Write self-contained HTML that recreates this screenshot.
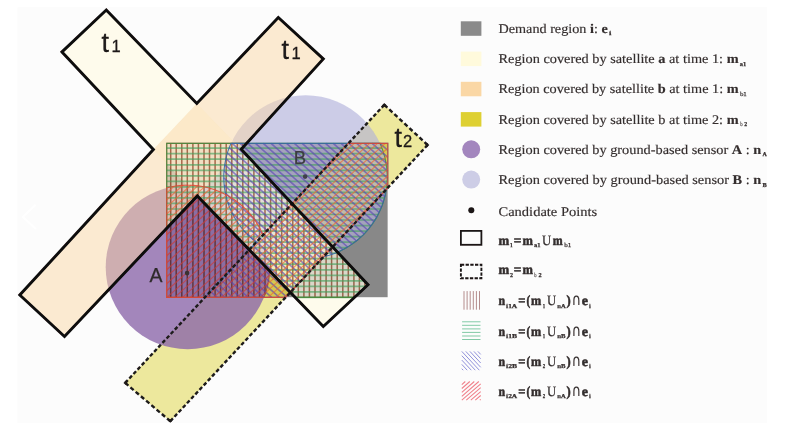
<!DOCTYPE html>
<html lang="en"><head><meta charset="utf-8"><title>Coverage regions diagram</title>
<style>html,body{margin:0;padding:0;background:#fff;overflow:hidden}svg{display:block}</style></head>
<body>
<svg width="785" height="424" viewBox="0 0 785 424">
<rect width="785" height="424" fill="#ffffff"/>
<rect x="17.5" y="7.2" width="749.5" height="415.8" fill="#fcfcfc"/>
<path d="M35.7 204.7 L22.9 216.9 L35.9 228.9" fill="none" stroke="#ffffff" stroke-width="2"/>
<defs><filter id="soft" x="-2%" y="-2%" width="104%" height="104%"><feGaussianBlur stdDeviation="0.6"/></filter><filter id="soft2" x="-2%" y="-2%" width="104%" height="104%"><feGaussianBlur stdDeviation="0.7"/></filter>
<clipPath id="rc"><rect x="166.7" y="143.4" width="221.1" height="154"/></clipPath></defs>
<g id="diagram" filter="url(#soft)">
<path d="M384.3 104.8 L427.6 145 L170.3 421.2 L125.2 382.9Z" fill="rgb(222, 212, 60)" fill-opacity="0.5"/>
<circle cx="187.7" cy="267.2" r="82.0" fill="rgb(140, 104, 170)" fill-opacity="0.8"/>
<circle cx="305.5" cy="177.0" r="81.7" fill="rgb(176, 176, 218)" fill-opacity="0.63"/>
<path d="M106.3 10 L196.8 103.5 L241.2 149.3 L368 284.7 L323.3 326.5 L197.3 195.9 L153.4 149.6 L62 51.9Z" fill="rgb(255, 250, 220)" fill-opacity="0.5"/>
<path d="M278.3 17.5 L323.3 58.9 L241.2 149.3 L197.3 195.9 L64.5 336.5 L19.8 295 L153.4 149.6 L196.8 103.5Z" fill="rgb(249, 215, 165)" fill-opacity="0.5"/>
<g clip-path="url(#rc)">
<rect x="166.7" y="143.4" width="221.1" height="154" fill="#888888"/>
<path d="M384.3 104.8 L427.6 145 L170.3 421.2 L125.2 382.9Z" fill="rgb(226, 212, 72)" fill-opacity="0.85"/>
<circle cx="187.7" cy="267.2" r="82.0" fill="rgb(140, 104, 170)" fill-opacity="0.8"/>
<circle cx="305.5" cy="177.0" r="81.7" fill="rgb(180, 178, 220)" fill-opacity="0.63"/>
<path d="M106.3 10 L196.8 103.5 L241.2 149.3 L368 284.7 L323.3 326.5 L197.3 195.9 L153.4 149.6 L62 51.9Z" fill="rgb(253, 249, 228)" fill-opacity="0.7"/>
<path d="M278.3 17.5 L323.3 58.9 L241.2 149.3 L197.3 195.9 L64.5 336.5 L19.8 295 L153.4 149.6 L196.8 103.5Z" fill="rgb(251, 226, 191)" fill-opacity="0.7"/>
</g>
<g>
<path d="M364.9 281.4 L364.9 287.6M359.4 275.5 L359.4 292.7M353.9 269.6 L353.9 297.4M348.3 263.7 L348.3 297.4M342.8 257.7 L342.8 297.4M337.2 251.8 L337.2 297.4M331.6 245.9 L331.6 297.4M326.1 240 L326.1 297.4M320.5 234 L320.5 297.4M315 228.1 L315 297.4M309.4 222.2 L309.4 297.4M303.9 216.3 L303.9 297.4M298.3 210.3 L298.3 297.4M292.8 204.4 L292.8 294.9M287.2 198.5 L287.2 289.1M281.7 192.5 L281.7 283.4M276.1 186.6 L276.1 277.6M270.6 180.7 L270.6 271.9M265 174.8 L265 294.4M259.5 168.8 L259.5 297.4M253.9 162.9 L253.9 297.4M248.4 157 L248.4 297.4M242.8 143.4 L242.8 147.5M242.8 151.1 L242.8 297.4M237.3 143.4 L237.3 297.4M231.8 143.4 L231.8 297.4M226.2 143.4 L226.2 297.4M220.6 143.4 L220.6 297.4M215.1 143.4 L215.1 297.4M209.5 143.4 L209.5 297.4M204 143.4 L204 297.4M198.4 143.4 L198.4 297.4M192.9 143.4 L192.9 297.4M187.3 143.4 L187.3 297.4M181.8 143.4 L181.8 297.4M176.2 143.4 L176.2 297.4M170.7 143.4 L170.7 297.4" fill="none" stroke="rgb(178,120,98)" stroke-width="1.5" stroke-opacity="1" filter="url(#soft2)" style="mix-blend-mode:multiply"/>
<path d="M264.4 296.1 L265.3 293.6 L266.2 291 L266.9 288.4 L267.6 285.8 L268.1 283.2 L268.6 280.6 L269 277.9 L269.3 275.2 L269.5 272.6 L269.6 270.8 L295.2 297.4 L354.4 297.4 L368 284.7 L241.2 149.3 L246.6 143.4 L166.7 143.4 L166.7 297.4 L263.9 297.4Z" fill="none" stroke="rgb(150,80,60)" stroke-width="1.1" stroke-opacity="0.85" filter="url(#soft2)"/>
<path d="M166.7 148.2 L382 148.2M166.7 153.7 L383.8 153.7M166.7 159.2 L385.2 159.2M166.7 164.8 L386.3 164.8M166.7 170.3 L386.9 170.3M166.7 175.8 L387.2 175.8M166.7 181.3 L387.1 181.3M166.7 186.9 L386.6 186.9M166.7 192.4 L385.7 192.4M166.7 197.9 L195.4 197.9M199.3 197.9 L384.5 197.9M166.7 203.4 L190.2 203.4M204.6 203.4 L382.8 203.4M166.7 209 L185 209M209.9 209 L380.7 209M166.7 214.5 L179.7 214.5M215.2 214.5 L378.1 214.5M166.7 220 L174.5 220M220.6 220 L375 220M166.7 225.6 L169.3 225.6M225.9 225.6 L371.2 225.6M231.2 231.1 L366.7 231.1M236.6 236.6 L361.4 236.6M241.9 242.1 L354.8 242.1M247.2 247.6 L346.5 247.6M252.6 253.2 L338.5 253.2M257.9 258.7 L343.7 258.7M263.2 264.2 L348.8 264.2M268.5 269.8 L354 269.8M273.9 275.3 L359.2 275.3M279.2 280.8 L364.3 280.8M284.5 286.3 L366.3 286.3M289.9 291.9 L360.4 291.9M295.2 297.4 L354.4 297.4" fill="none" stroke="rgb(66,160,92)" stroke-width="1.7" stroke-opacity="0.62" filter="url(#soft2)"/>
<path d="M197.3 195.9 L295.2 297.4 L354.4 297.4 L368 284.7 L337.5 252.2 L339.2 251.4 L341.6 250.3 L344 249.1 L346.3 247.8 L348.6 246.4 L350.9 244.9 L353.1 243.4 L355.2 241.8 L357.3 240.2 L359.4 238.4 L361.3 236.6 L363.3 234.8 L365.1 232.8 L366.9 230.9 L368.7 228.8 L370.3 226.7 L371.9 224.6 L373.4 222.4 L374.9 220.1 L376.3 217.9 L377.6 215.5 L378.8 213.1 L379.9 210.7 L381 208.3 L382 205.8 L382.9 203.3 L383.7 200.7 L384.4 198.1 L385.1 195.6 L385.6 192.9 L386.1 190.3 L386.5 187.7 L386.8 185 L387 182.3 L387.2 179.7 L387.2 177 L387.2 174.3 L387 171.7 L386.8 169 L386.5 166.3 L386.1 163.7 L385.6 161.1 L385.1 158.4 L384.4 155.9 L383.7 153.3 L382.9 150.7 L382 148.2 L381 145.7 L380 143.4 L166.7 143.4 L166.7 228.3Z" fill="none" stroke="rgb(70,140,60)" stroke-width="1.1" stroke-opacity="0.85" filter="url(#soft2)"/>
<path d="M387.8 143.4 L387.8 143.4M380 143.4 L387.8 150.4M372.2 143.4 L387.8 157.4M364.4 143.4 L387.8 164.4M356.7 143.4 L387.8 171.3M348.9 143.4 L387.8 178.3M341.1 143.4 L387.8 185.3M333.3 143.4 L386 190.7M325.5 143.4 L384.8 196.6M317.8 143.4 L383.2 202.1M310 143.4 L381.3 207.4M302.2 143.4 L379.1 212.4M294.4 143.4 L376.6 217.2M286.6 143.4 L373.9 221.7M278.9 143.4 L370.9 226M271.1 143.4 L367.6 230M263.3 143.4 L364.1 233.9M255.5 143.4 L360.4 237.5M247.7 143.4 L356.4 240.9M240 143.4 L352.1 244.1M232.2 143.4 L347.6 247M229.2 147.7 L342.8 249.7M227.4 153.1 L337.7 252.1M225.9 158.7 L332.3 254.2M224.7 164.7 L326.5 256M224 171 L321.7 258.6M223.8 177.8 L318.2 262.5M224.2 185.1 L314.6 266.3M225.4 193.2 L311.1 270.1M227.8 202.3 L307.6 273.9M232.3 213.3 L304 277.7M244 230.8 L300.5 281.5M252.9 245.8 L296.9 285.3M249.4 249.6 L293.4 289.1M245.9 253.4 L289.8 292.9M242.3 257.2 L286.3 296.7M238.8 261 L279.3 297.4M235.2 264.8 L271.6 297.4M231.7 268.6 L263.8 297.4M228.1 272.4 L256 297.4M224.6 276.2 L248.2 297.4M221.1 280 L240.4 297.4M217.5 283.8 L232.7 297.4M214 287.6 L224.9 297.4M210.4 291.4 L217.1 297.4M206.9 295.2 L209.3 297.4" fill="none" stroke="rgb(88,66,180)" stroke-width="1.6" stroke-opacity="0.62" filter="url(#soft2)"/>
<path d="M230 145.7 L229 148.2 L228.1 150.7 L227.3 153.3 L226.6 155.9 L225.9 158.4 L225.4 161.1 L224.9 163.7 L224.5 166.3 L224.2 169 L224 171.7 L223.8 174.3 L223.8 177 L223.8 179.7 L224 182.3 L224.2 185 L224.5 187.7 L224.9 190.3 L225.4 192.9 L225.9 195.6 L226.6 198.1 L227.3 200.7 L228.1 203.3 L229 205.8 L230 208.3 L231.1 210.7 L232.2 213.1 L233.4 215.5 L234.7 217.8 L236.1 220.1 L237.6 222.4 L239.1 224.6 L240.7 226.7 L242.3 228.8 L244.1 230.9 L245.9 232.8 L247.7 234.8 L249.7 236.6 L251.6 238.4 L253.7 240.2 L255.8 241.8 L256.3 242.2 L204.9 297.4 L285.6 297.4 L323.6 256.7 L324.1 256.6 L326.6 255.9 L329.2 255.2 L331.8 254.4 L334.3 253.5 L336.8 252.5 L339.2 251.4 L341.6 250.3 L344 249.1 L346.3 247.8 L348.6 246.4 L350.9 244.9 L353.1 243.4 L355.2 241.8 L357.3 240.2 L359.4 238.4 L361.3 236.6 L363.3 234.8 L365.1 232.8 L366.9 230.9 L368.7 228.8 L370.3 226.7 L371.9 224.6 L373.4 222.4 L374.9 220.1 L376.3 217.9 L377.6 215.5 L378.8 213.1 L379.9 210.7 L381 208.3 L382 205.8 L382.9 203.3 L383.7 200.7 L384.4 198.1 L385.1 195.6 L385.6 192.9 L386.1 190.3 L386.2 189.4 L387.8 187.7 L387.8 143.4 L231 143.4Z" fill="none" stroke="rgb(50,105,165)" stroke-width="1.1" stroke-opacity="0.85" filter="url(#soft2)"/>
<path d="M166.7 192.9 L174 186.4M166.7 199.9 L182.9 185.3M166.7 206.9 L190.8 185.3M166.7 213.9 L197.9 185.8M166.7 220.9 L204.5 186.9M166.7 227.8 L169.6 225.2M199.6 198.3 L210.6 188.5M203.2 202 L216.3 190.3M206.8 205.8 L221.6 192.5M210.4 209.5 L226.6 195M214.1 213.3 L231.3 197.8M217.7 217 L235.8 200.8M221.3 220.7 L239.9 204M224.9 224.5 L243.9 207.5M228.5 228.2 L247.5 211.1M232.1 232 L251 215M235.7 235.7 L254.2 219.2M239.3 239.5 L257.1 223.5M242.9 243.2 L259.8 228.1M318.7 175.3 L354.2 143.4M246.5 246.9 L262.2 232.9M279 217.8 L361.9 143.4M250.2 250.7 L369.7 143.4M253.8 254.4 L377.5 143.4M257.4 258.2 L385.3 143.4M261 261.9 L387.8 148.1M264.6 265.6 L387.8 155.1M268.2 269.4 L387.8 162.1M269.3 275.4 L387.8 169.1M268.1 283.5 L387.8 176M265.6 292.6 L387.8 183M268.1 297.4 L374.9 201.6M275.9 297.4 L335.2 244.1M283.7 297.4 L295.6 286.7" fill="none" stroke="rgb(238,100,48)" stroke-width="1.25" stroke-opacity="0.66" filter="url(#soft2)"/>
<path d="M169.6 225.2 L199.6 198.3M166.7 234.8 L203.2 202M166.7 241.8 L206.8 205.8M166.7 248.8 L210.4 209.5M166.7 255.8 L214.1 213.3M166.7 262.7 L217.7 217M166.7 269.7 L221.3 220.7M166.7 276.7 L224.9 224.5M166.7 283.7 L228.5 228.2M166.7 290.7 L232.1 232M167 297.4 L235.7 235.7M174.7 297.4 L239.3 239.5M182.5 297.4 L242.9 243.2M190.3 297.4 L246.5 246.9M198.1 297.4 L250.2 250.7M205.9 297.4 L253.8 254.4M213.6 297.4 L257.4 258.2M221.4 297.4 L261 261.9M229.2 297.4 L264.6 265.6M237 297.4 L268.2 269.4M244.8 297.4 L269.3 275.4M252.5 297.4 L268.1 283.5M260.3 297.4 L265.6 292.6" fill="none" stroke="rgb(206,58,56)" stroke-width="1.2" stroke-opacity="0.7" filter="url(#soft2)"/>
<path d="M387.8 187.7 L387.8 143.4 L348.3 143.4 L263.1 234.9 L262.4 233.4 L261.2 230.9 L260 228.5 L258.7 226.2 L257.3 223.9 L255.9 221.6 L254.4 219.4 L252.8 217.3 L251.1 215.2 L249.4 213.1 L247.5 211.1 L245.7 209.2 L243.8 207.4 L241.8 205.5 L239.7 203.8 L237.6 202.1 L235.5 200.5 L233.3 199 L231 197.6 L228.7 196.2 L226.4 194.9 L224 193.7 L221.5 192.5 L219.1 191.4 L216.6 190.5 L214.1 189.6 L211.5 188.7 L208.9 188 L206.3 187.3 L203.7 186.8 L201.1 186.3 L198.4 185.9 L195.7 185.6 L193.1 185.4 L190.4 185.2 L187.7 185.2 L185 185.2 L182.3 185.4 L179.7 185.6 L177 185.9 L174.3 186.3 L171.7 186.8 L169.1 187.3 L166.7 187.9 L166.7 297.4 L285.6 297.4Z" fill="none" stroke="rgb(225,70,50)" stroke-width="1.1" stroke-opacity="0.85" filter="url(#soft2)"/>
</g>
<path d="M384.3 104.8L427.6 145" fill="none" stroke="#1e1a1a" stroke-width="2.4" stroke-dasharray="4.2 2.661" stroke-linecap="butt"/>
<path d="M427.6 145L170.3 421.2" fill="none" stroke="#1e1a1a" stroke-width="2.4" stroke-dasharray="3.8 2.326" stroke-linecap="butt"/>
<path d="M170.3 421.2L125.2 382.9" fill="none" stroke="#1e1a1a" stroke-width="2.4" stroke-dasharray="4.2 2.671" stroke-linecap="butt"/>
<path d="M125.2 382.9L384.3 104.8" fill="none" stroke="#1e1a1a" stroke-width="2.4" stroke-dasharray="3.8 2.269" stroke-linecap="butt"/>
<path d="M382.9 106.3L384.3 104.8L385.8 106.2" fill="none" stroke="#1e1a1a" stroke-width="2.4" stroke-linejoin="miter"/>
<path d="M426.1 143.6L427.6 145L426.2 146.5" fill="none" stroke="#1e1a1a" stroke-width="2.4" stroke-linejoin="miter"/>
<path d="M171.7 419.7L170.3 421.2L168.8 419.9" fill="none" stroke="#1e1a1a" stroke-width="2.4" stroke-linejoin="miter"/>
<path d="M126.7 384.2L125.2 382.9L126.6 381.4" fill="none" stroke="#1e1a1a" stroke-width="2.4" stroke-linejoin="miter"/>
<path d="M62 51.9 L153.4 149.6 L19.8 295 L64.5 336.5 L197.3 195.9 L323.3 326.5 L368 284.7 L241.2 149.3 L323.3 58.9 L278.3 17.5 L196.8 103.5 L106.3 10Z" fill="none" stroke="#0a0808" stroke-width="2.9" stroke-linejoin="miter"/>
<circle cx="187.1" cy="273.1" r="2.3" fill="#3a3030"/>
<circle cx="305.1" cy="176.6" r="2.3" fill="#404048"/>
<text x="101.6" y="51.9" font-family="Liberation Sans, Arial, sans-serif" font-size="27" fill="#1e1a1a" stroke="#1e1a1a" stroke-width="0.3">t<tspan font-size="16.5" dx="2.5">1</tspan></text>
<text x="281.6" y="59" font-family="Liberation Sans, Arial, sans-serif" font-size="27" fill="#1e1a1a" stroke="#1e1a1a" stroke-width="0.3">t<tspan font-size="16.5" dx="2.5">1</tspan></text>
<text x="394.6" y="147.2" font-family="Liberation Sans, Arial, sans-serif" font-size="27" fill="#1e1a1a" stroke="#1e1a1a" stroke-width="0.3">t<tspan font-size="16.5" dx="1">2</tspan></text>
<text x="149.4" y="281.5" font-family="Liberation Sans, Arial, sans-serif" font-size="19.5" fill="#2e2a2a" stroke="#2e2a2a" stroke-width="0.25">A</text>
<text x="293.8" y="164" font-family="Liberation Sans, Arial, sans-serif" font-size="18.5" fill="#3c3c40" stroke="#3c3c40" stroke-width="0.25">B</text>
</g>
<g id="legend" font-family="Liberation Serif, Times New Roman, serif" font-size="13.3" style="text-rendering:geometricPrecision" fill="#342e2e" stroke="#342e2e" stroke-width="0.16" filter="url(#soft)">
<rect x="460.8" y="21.3" width="20.6" height="14.5" fill="#8a8a8a" stroke="none"/>
<rect x="460.8" y="51.6" width="20.6" height="14.5" fill="#fffadc" stroke="none"/>
<rect x="460.8" y="81.8" width="20.6" height="14.5" fill="#fad7a5" stroke="none"/>
<rect x="460.8" y="112.1" width="20.6" height="14.5" fill="#ded032" stroke="none"/>
<circle cx="471.2" cy="149.3" r="9" fill="#a386be" stroke="none"/>
<circle cx="471.2" cy="179.6" r="9" fill="#cdcde6" stroke="none"/>
<circle cx="471.3" cy="210.3" r="3" fill="#1a1414" stroke="none"/>
<rect x="460.9" y="230.9" width="20.5" height="13.9" fill="none" stroke="#1a1616" stroke-width="1.8"/>
<rect x="460.9" y="264.7" width="20.5" height="13.6" fill="none" stroke="#1a1616" stroke-width="1.9" stroke-dasharray="3.3 1.4"/>
<path d="M479.5 291.1 L479.5 309.7M476.4 291.1 L476.4 309.7M473.3 291.1 L473.3 309.7M470.2 291.1 L470.2 309.7M467.1 291.1 L467.1 309.7M464 291.1 L464 309.7" fill="none" stroke="#a87878" stroke-width="0.85"/>
<path d="M462.1 321.8 L480.5 321.8M462.1 325.3 L480.5 325.3M462.1 328.9 L480.5 328.9M462.1 332.4 L480.5 332.4M462.1 336 L480.5 336M462.1 339.5 L480.5 339.5" fill="none" stroke="#6cc096" stroke-width="0.85"/>
<path d="M477.9 351.4 L480.7 354.4M473.9 351.4 L480.7 358.7M469.9 351.4 L480.7 363M465.8 351.4 L480.7 367.3M461.8 351.4 L479.3 370.2M461.8 355.7 L475.3 370.2M461.8 360.1 L471.3 370.2M461.8 364.4 L467.2 370.2M461.8 368.7 L463.2 370.2" fill="none" stroke="#9090da" stroke-width="1.0"/>
<path d="M461.8 384.6 L465.3 381.5M461.8 388.5 L469.8 381.5M461.8 392.4 L474.3 381.5M461.8 396.3 L478.8 381.5M461.8 400.2 L480.7 383.8M466.3 400.2 L480.7 387.7M470.8 400.2 L480.7 391.6M475.3 400.2 L480.7 395.5M479.8 400.2 L480.7 399.4" fill="none" stroke="#f0808a" stroke-width="1.05"/>
<text id="row0" x="498.5" y="32.9" textLength="109.2" lengthAdjust="spacingAndGlyphs">Demand region <tspan font-weight="bold">i</tspan>: <tspan font-weight="bold">e</tspan></text>
<text id="row1" x="498.5" y="63.2" textLength="240.1" lengthAdjust="spacingAndGlyphs">Region covered by satellite <tspan font-weight="bold">a</tspan> at time 1: <tspan font-weight="bold">m</tspan></text>
<text id="row2" x="498.5" y="93.4" textLength="240.1" lengthAdjust="spacingAndGlyphs">Region covered by satellite <tspan font-weight="bold">b</tspan> at time 1: <tspan font-weight="bold">m</tspan></text>
<text id="row3" x="498.5" y="123.7" textLength="240.1" lengthAdjust="spacingAndGlyphs">Region covered by satellite b at time 2: <tspan font-weight="bold">m</tspan></text>
<text id="row4" x="498.5" y="153.9" textLength="262.8" lengthAdjust="spacingAndGlyphs">Region covered by ground-based sensor <tspan font-weight="bold">A</tspan> : <tspan font-weight="bold">n</tspan></text>
<text id="row5" x="498.5" y="184.2" textLength="262.8" lengthAdjust="spacingAndGlyphs">Region covered by ground-based sensor <tspan font-weight="bold">B</tspan> : <tspan font-weight="bold">n</tspan></text>
<text id="row6" x="498.5" y="215.6" textLength="98.7" lengthAdjust="spacingAndGlyphs">Candidate Points</text>
<text x="608.9" y="35.2" font-size="6" font-weight="bold" textLength="2.4" lengthAdjust="spacingAndGlyphs" stroke-width="0.25">i</text>
<text x="739.7" y="65.5" font-size="6" font-weight="bold" textLength="6.4" lengthAdjust="spacingAndGlyphs" stroke-width="0.25">a1</text>
<text x="739.9" y="95.7" font-size="6" fill="#6a6464" textLength="6.9" lengthAdjust="spacingAndGlyphs" stroke-width="0.25">b1</text>
<text x="740.2" y="126" font-size="6" fill="#a09a9a" textLength="2.4" lengthAdjust="spacingAndGlyphs" stroke-width="0.25">b</text>
<text x="744.2" y="126" font-size="6" font-weight="bold" textLength="2.9" lengthAdjust="spacingAndGlyphs" stroke-width="0.25">2</text>
<text x="762.6" y="156.2" font-size="6" font-weight="bold" textLength="4.3" lengthAdjust="spacingAndGlyphs" stroke-width="0.25">A</text>
<text x="762.6" y="186.5" font-size="6" font-weight="bold" textLength="4.3" lengthAdjust="spacingAndGlyphs" stroke-width="0.25">B</text>
<text x="498.4" y="244.7" font-size="13.8" font-weight="bold" textLength="10.7" lengthAdjust="spacingAndGlyphs" stroke-width="0.55">m</text>
<text x="509.9" y="247" font-size="6" font-weight="bold" textLength="2.7" lengthAdjust="spacingAndGlyphs" stroke-width="0.25">1</text>
<text x="513.7" y="244.7" font-size="13.8" font-weight="bold" textLength="7.6" lengthAdjust="spacingAndGlyphs" stroke-width="0.55">=</text>
<text x="522.4" y="244.7" font-size="13.8" font-weight="bold" textLength="10.4" lengthAdjust="spacingAndGlyphs" stroke-width="0.55">m</text>
<text x="534" y="247" font-size="6" font-weight="bold" textLength="6.5" lengthAdjust="spacingAndGlyphs" stroke-width="0.25">a1</text>
<text x="542" y="244.7" font-size="14.3" textLength="9.2" lengthAdjust="spacingAndGlyphs" stroke-width="0.25">U</text>
<text x="552.7" y="244.7" font-size="13.8" font-weight="bold" textLength="9.9" lengthAdjust="spacingAndGlyphs" stroke-width="0.55">m</text>
<text x="564.2" y="247" font-size="6" fill="#5a5454" textLength="7.1" lengthAdjust="spacingAndGlyphs" stroke-width="0.25">b1</text>
<text x="498.4" y="274.2" font-size="13.8" font-weight="bold" textLength="10.7" lengthAdjust="spacingAndGlyphs" stroke-width="0.55">m</text>
<text x="509.9" y="276.5" font-size="6" font-weight="bold" textLength="3" lengthAdjust="spacingAndGlyphs" stroke-width="0.25">2</text>
<text x="513.7" y="274.2" font-size="13.8" font-weight="bold" textLength="7.6" lengthAdjust="spacingAndGlyphs" stroke-width="0.55">=</text>
<text x="522.4" y="274.2" font-size="13.8" font-weight="bold" textLength="10.4" lengthAdjust="spacingAndGlyphs" stroke-width="0.55">m</text>
<text x="534.3" y="276.5" font-size="6" fill="#a09a9a" textLength="2.3" lengthAdjust="spacingAndGlyphs" stroke-width="0.25">b</text>
<text x="538.6" y="276.5" font-size="6" font-weight="bold" textLength="3.1" lengthAdjust="spacingAndGlyphs" stroke-width="0.25">2</text>
<text x="498.4" y="305.2" font-size="13.8" font-weight="bold" textLength="6.6" lengthAdjust="spacingAndGlyphs" stroke-width="0.55">n</text>
<text x="506.1" y="307.5" font-size="6" font-weight="bold" textLength="11.1" lengthAdjust="spacingAndGlyphs" stroke-width="0.25">i1A</text>
<text x="518.3" y="305.2" font-size="13.8" font-weight="bold" textLength="7.2" lengthAdjust="spacingAndGlyphs" stroke-width="0.55">=</text>
<text x="526.4" y="305.2" font-size="14.2" font-weight="bold" textLength="3.7" lengthAdjust="spacingAndGlyphs" stroke-width="0.55">(</text>
<text x="531" y="305.2" font-size="13.8" font-weight="bold" textLength="10.2" lengthAdjust="spacingAndGlyphs" stroke-width="0.55">m</text>
<text x="542.8" y="307.5" font-size="6" font-weight="bold" textLength="2.4" lengthAdjust="spacingAndGlyphs" stroke-width="0.25">1</text>
<text x="546.9" y="305.2" font-size="14.3" textLength="9.2" lengthAdjust="spacingAndGlyphs" stroke-width="0.25">U</text>
<text x="557.3" y="307.5" font-size="6" font-weight="bold" textLength="8.4" lengthAdjust="spacingAndGlyphs" stroke-width="0.25">nA</text>
<text x="566.5" y="305.2" font-size="14.2" font-weight="bold" textLength="4.2" lengthAdjust="spacingAndGlyphs" stroke-width="0.55">)</text>
<text x="571.8" y="305.2" font-family="DejaVu Sans, sans-serif" font-size="16.5" stroke-width="0.12" textLength="9.2" lengthAdjust="spacingAndGlyphs">∩</text>
<text x="581.7" y="305.2" font-size="13.8" font-weight="bold" textLength="6.2" lengthAdjust="spacingAndGlyphs" stroke-width="0.55">e</text>
<text x="589.1" y="307.5" font-size="6" font-weight="bold" textLength="1.8" lengthAdjust="spacingAndGlyphs" stroke-width="0.25">i</text>
<text x="498.4" y="335.5" font-size="13.8" font-weight="bold" textLength="6.6" lengthAdjust="spacingAndGlyphs" stroke-width="0.55">n</text>
<text x="506.1" y="337.8" font-size="6" font-weight="bold" textLength="11.1" lengthAdjust="spacingAndGlyphs" stroke-width="0.25">i1B</text>
<text x="518.3" y="335.5" font-size="13.8" font-weight="bold" textLength="7.2" lengthAdjust="spacingAndGlyphs" stroke-width="0.55">=</text>
<text x="526.4" y="335.5" font-size="14.2" font-weight="bold" textLength="3.7" lengthAdjust="spacingAndGlyphs" stroke-width="0.55">(</text>
<text x="531" y="335.5" font-size="13.8" font-weight="bold" textLength="10.2" lengthAdjust="spacingAndGlyphs" stroke-width="0.55">m</text>
<text x="542.8" y="337.8" font-size="6" font-weight="bold" textLength="2.4" lengthAdjust="spacingAndGlyphs" stroke-width="0.25">1</text>
<text x="546.9" y="335.5" font-size="14.3" textLength="9.2" lengthAdjust="spacingAndGlyphs" stroke-width="0.25">U</text>
<text x="557.3" y="337.8" font-size="6" font-weight="bold" textLength="8.4" lengthAdjust="spacingAndGlyphs" stroke-width="0.25">nB</text>
<text x="566.5" y="335.5" font-size="14.2" font-weight="bold" textLength="4.2" lengthAdjust="spacingAndGlyphs" stroke-width="0.55">)</text>
<text x="571.8" y="335.5" font-family="DejaVu Sans, sans-serif" font-size="16.5" stroke-width="0.12" textLength="9.2" lengthAdjust="spacingAndGlyphs">∩</text>
<text x="581.7" y="335.5" font-size="13.8" font-weight="bold" textLength="6.2" lengthAdjust="spacingAndGlyphs" stroke-width="0.55">e</text>
<text x="589.1" y="337.8" font-size="6" font-weight="bold" textLength="1.8" lengthAdjust="spacingAndGlyphs" stroke-width="0.25">i</text>
<text x="498.4" y="365.8" font-size="13.8" font-weight="bold" textLength="6.6" lengthAdjust="spacingAndGlyphs" stroke-width="0.55">n</text>
<text x="506.1" y="368.1" font-size="6" font-weight="bold" textLength="11.1" lengthAdjust="spacingAndGlyphs" stroke-width="0.25">i2B</text>
<text x="518.3" y="365.8" font-size="13.8" font-weight="bold" textLength="7.2" lengthAdjust="spacingAndGlyphs" stroke-width="0.55">=</text>
<text x="526.4" y="365.8" font-size="14.2" font-weight="bold" textLength="3.7" lengthAdjust="spacingAndGlyphs" stroke-width="0.55">(</text>
<text x="531" y="365.8" font-size="13.8" font-weight="bold" textLength="10.2" lengthAdjust="spacingAndGlyphs" stroke-width="0.55">m</text>
<text x="542.8" y="368.1" font-size="6" font-weight="bold" textLength="2.4" lengthAdjust="spacingAndGlyphs" stroke-width="0.25">2</text>
<text x="546.9" y="365.8" font-size="14.3" textLength="9.2" lengthAdjust="spacingAndGlyphs" stroke-width="0.25">U</text>
<text x="557.3" y="368.1" font-size="6" font-weight="bold" textLength="8.4" lengthAdjust="spacingAndGlyphs" stroke-width="0.25">nB</text>
<text x="566.5" y="365.8" font-size="14.2" font-weight="bold" textLength="4.2" lengthAdjust="spacingAndGlyphs" stroke-width="0.55">)</text>
<text x="571.8" y="365.8" font-family="DejaVu Sans, sans-serif" font-size="16.5" stroke-width="0.12" textLength="9.2" lengthAdjust="spacingAndGlyphs">∩</text>
<text x="581.7" y="365.8" font-size="13.8" font-weight="bold" textLength="6.2" lengthAdjust="spacingAndGlyphs" stroke-width="0.55">e</text>
<text x="589.1" y="368.1" font-size="6" font-weight="bold" textLength="1.8" lengthAdjust="spacingAndGlyphs" stroke-width="0.25">i</text>
<text x="498.4" y="396" font-size="13.8" font-weight="bold" textLength="6.6" lengthAdjust="spacingAndGlyphs" stroke-width="0.55">n</text>
<text x="506.1" y="398.3" font-size="6" font-weight="bold" textLength="11.1" lengthAdjust="spacingAndGlyphs" stroke-width="0.25">i2A</text>
<text x="518.3" y="396" font-size="13.8" font-weight="bold" textLength="7.2" lengthAdjust="spacingAndGlyphs" stroke-width="0.55">=</text>
<text x="526.4" y="396" font-size="14.2" font-weight="bold" textLength="3.7" lengthAdjust="spacingAndGlyphs" stroke-width="0.55">(</text>
<text x="531" y="396" font-size="13.8" font-weight="bold" textLength="10.2" lengthAdjust="spacingAndGlyphs" stroke-width="0.55">m</text>
<text x="542.8" y="398.3" font-size="6" font-weight="bold" textLength="2.4" lengthAdjust="spacingAndGlyphs" stroke-width="0.25">2</text>
<text x="546.9" y="396" font-size="14.3" textLength="9.2" lengthAdjust="spacingAndGlyphs" stroke-width="0.25">U</text>
<text x="557.3" y="398.3" font-size="6" font-weight="bold" textLength="8.4" lengthAdjust="spacingAndGlyphs" stroke-width="0.25">nA</text>
<text x="566.5" y="396" font-size="14.2" font-weight="bold" textLength="4.2" lengthAdjust="spacingAndGlyphs" stroke-width="0.55">)</text>
<text x="571.8" y="396" font-family="DejaVu Sans, sans-serif" font-size="16.5" stroke-width="0.12" textLength="9.2" lengthAdjust="spacingAndGlyphs">∩</text>
<text x="581.7" y="396" font-size="13.8" font-weight="bold" textLength="6.2" lengthAdjust="spacingAndGlyphs" stroke-width="0.55">e</text>
<text x="589.1" y="398.3" font-size="6" font-weight="bold" textLength="1.8" lengthAdjust="spacingAndGlyphs" stroke-width="0.25">i</text>
</g>
</svg>
</body></html>
